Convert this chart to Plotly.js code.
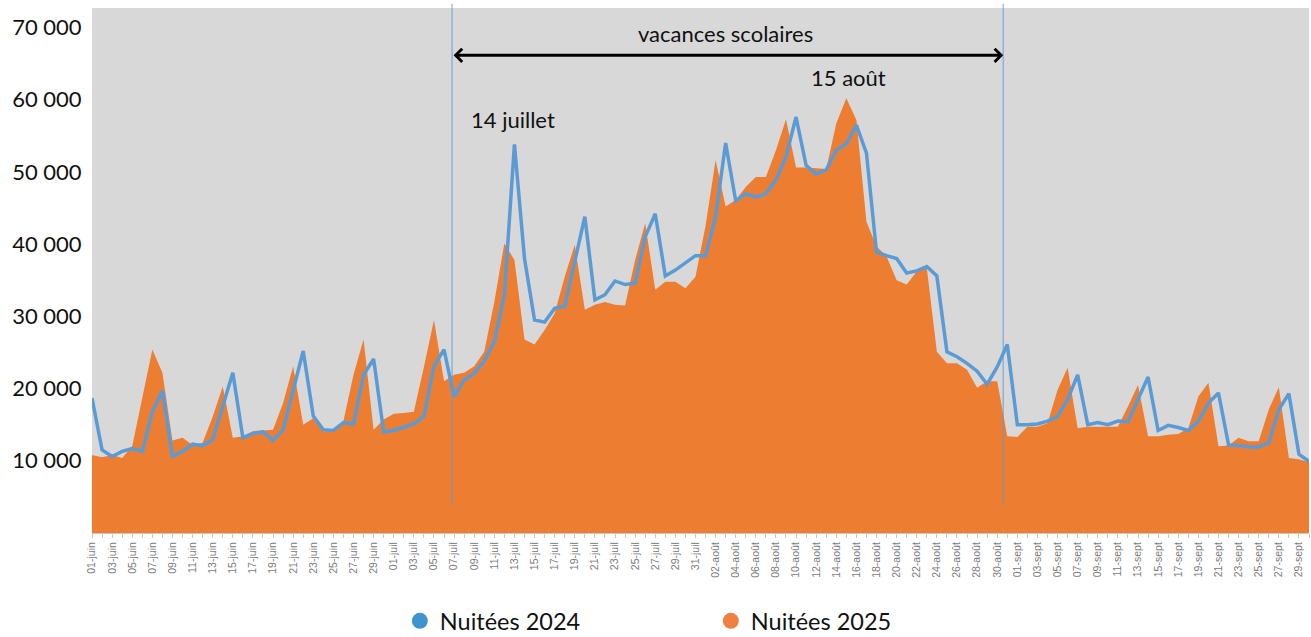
<!DOCTYPE html>
<html>
<head>
<meta charset="utf-8">
<script src="https://cdn.plot.ly/plotly-3.0.1.min.js"></script>
<style>
  html, body { margin: 0; padding: 0; background: #ffffff; }
  #chart { width: 1311px; height: 637px; }
</style>
</head>
<body>
<div id="chart"></div>
<script>
// Month names and day counts for the category labels (1 June -> 30 September)
const monthNames = ["juin", "juil", "août", "sept"];
const monthDays = [30, 31, 31, 30];

// Nuitées 2024 (blue line)
const nuitees2024 = [
  18700, 11500, 10600, 11300, 11700, 11300, 16800, 19700, 10600, 11300,
  12300, 12100, 12900, 17500, 22200, 13200, 13800, 14000, 12800, 14300,
  19800, 25200, 16200, 14300, 14200, 15300, 15100, 21900, 24100, 14000,
  14200, 14600, 15100, 16200, 23100, 25400, 18900, 21200, 22100, 23800,
  26500, 33000, 53800, 38000, 29500, 29200, 31100, 31400, 37400, 43800,
  32300, 33000, 34900, 34400, 34600, 41000, 44200, 35600, 36400, 37400,
  38400, 38400, 43800, 54000, 46000, 47000, 46500, 47000, 48900, 52100,
  57600, 50900, 49700, 50300, 53000, 53900, 56500, 52600, 38900, 38400,
  38000, 36000, 36300, 36900, 35600, 25100, 24400, 23500, 22400, 20600,
  23000, 26100, 15000, 15000, 15100, 15500, 16100, 18500, 21900, 15000,
  15300, 15000, 15500, 15400, 18500, 21600, 14200, 14900, 14600, 14200,
  15500, 18000, 19400, 12200, 12100, 11900, 11900, 12500, 17100, 19300,
  10900, 9900
];

// Nuitées 2025 (orange area)
const nuitees2025 = [
  10800, 10500, 10800, 10400, 12000, 18500, 25400, 22200, 12800, 13200,
  12200, 12500, 16100, 20300, 13200, 13400, 14100, 14200, 14300, 18000,
  23100, 15000, 15900, 14100, 14100, 15500, 21900, 26800, 14300, 15700,
  16500, 16600, 16800, 23000, 29500, 21000, 21900, 22200, 23100, 25100,
  32000, 40100, 37800, 26800, 26100, 28100, 30400, 35500, 39900, 30900,
  31600, 32000, 31600, 31500, 37800, 42900, 33700, 34800, 34800, 33900,
  35500, 42500, 51600, 45200, 46100, 47900, 49300, 49300, 53000, 57300,
  50600, 50600, 50500, 50400, 56700, 60200, 57200, 43100, 39700, 38300,
  35000, 34400, 36200, 36700, 25100, 23500, 23500, 22600, 20100, 21000,
  21000, 13400, 13300, 14700, 14700, 15200, 19800, 22900, 14500, 14700,
  14700, 14700, 14700, 17500, 20500, 13400, 13400, 13600, 13700, 14500,
  18900, 20800, 12000, 12100, 13200, 12700, 12700, 17100, 20200, 10400,
  10200, 9800
];

// Y tick labels
const yTickVals = [10000, 20000, 30000, 40000, 50000, 60000, 70000];
const yTickText = ["10 000", "20 000", "30 000", "40 000", "50 000", "60 000", "70 000"];

// Build categories "01-juin" ... "30-sept"
const categories = [];
monthNames.forEach((m, k) => {
  for (let d = 1; d <= monthDays[k]; d++) {
    categories.push((d < 10 ? "0" + d : "" + d) + "-" + m);
  }
});
// Ticks on every day, labels every second day
const xTickText = categories.map((c, i) => (i % 2 === 0 ? c : ""));

const ORANGE = "#ED7D31";
const BLUE = "#5B9BD5";
const FONT = "Lato, 'Open Sans', sans-serif";

const traces = [
  {
    x: categories, y: nuitees2025, type: "scatter", mode: "lines",
    fill: "tozeroy", fillcolor: ORANGE, line: { width: 0, color: ORANGE },
    showlegend: false, hoverinfo: "skip"
  },
  {
    x: categories, y: nuitees2024, type: "scatter", mode: "lines",
    line: { width: 3.5, color: BLUE }, showlegend: false, hoverinfo: "skip"
  },
  {
    x: [null], y: [null], type: "scatter", mode: "markers", name: "Nuitées 2024",
    marker: { size: 20, color: "#3E95CD", symbol: "circle" }, showlegend: true
  },
  {
    x: [null], y: [null], type: "scatter", mode: "markers", name: "Nuitées 2025",
    marker: { size: 20, color: "#F0803F", symbol: "circle" }, showlegend: true
  }
];

const leftLine = 35.8, rightLine = 90.6;

const layout = {
  width: 1311, height: 637,
  margin: { l: 92, r: 2, t: 8, b: 103.5, pad: 0, autoexpand: false },
  paper_bgcolor: "#ffffff",
  plot_bgcolor: "#d8d8d8",
  font: { family: FONT, color: "#000000" },
  xaxis: {
    type: "category",
    range: [0, 121],
    tickmode: "array",
    tickvals: categories,
    ticktext: xTickText,
    tickangle: -90,
    tickfont: { family: "'Liberation Sans', Arial, sans-serif", size: 10.5, color: "#7a7a7a" },
    ticks: "outside", ticklen: 4, tickcolor: "#c8c8c8", tickwidth: 1,
    showline: true, linecolor: "#c8c8c8", linewidth: 1,
    showgrid: false, zeroline: false, automargin: false, fixedrange: true
  },
  yaxis: {
    range: [0, 72700],
    tickmode: "array",
    tickvals: yTickVals,
    ticktext: yTickText,
    tickfont: { family: FONT, size: 22, color: "#111111" },
    ticks: "outside", ticklen: 5, tickcolor: "rgba(0,0,0,0)",
    showline: false, showgrid: false, zeroline: false, automargin: false, fixedrange: true
  },
  shapes: [
    { type: "line", xref: "x", yref: "paper", x0: leftLine, x1: leftLine, y0: 0.054, y1: 1.008,
      line: { color: "rgba(91,155,213,0.6)", width: 1.5 } },
    { type: "line", xref: "x", yref: "paper", x0: rightLine, x1: rightLine, y0: 0.054, y1: 1.008,
      line: { color: "rgba(91,155,213,0.6)", width: 1.5 } }
  ],
  annotations: [
    { xref: "x", yref: "y", x: rightLine, y: 66150, axref: "x", ayref: "y", ax: leftLine, ay: 66150,
      text: "", showarrow: true, arrowside: "end+start", arrowhead: 4, arrowsize: 0.85,
      arrowwidth: 3, arrowcolor: "#000000", standoff: 0, startstandoff: 0 },
    { xref: "x", yref: "y", x: 63.0, y: 69200, text: "vacances scolaires", showarrow: false,
      xanchor: "center", yanchor: "middle", font: { family: FONT, size: 22, color: "#111111" } },
    { xref: "x", yref: "y", x: 37.5, y: 57300, text: "14 juillet", showarrow: false,
      xanchor: "left", yanchor: "middle", font: { family: FONT, size: 22, color: "#111111" } },
    { xref: "x", yref: "y", x: 71.3, y: 63100, text: "15 août", showarrow: false,
      xanchor: "left", yanchor: "middle", font: { family: FONT, size: 22, color: "#111111" } }
  ],
  showlegend: true,
  legend: {
    orientation: "h",
    xref: "container", yref: "container",
    x: 0.305, xanchor: "left",
    y: 0.025, yanchor: "middle",
    entrywidth: 266, entrywidthmode: "pixels",
    font: { family: FONT, size: 23.5, color: "#111111" },
    bgcolor: "rgba(0,0,0,0)", itemsizing: "trace"
  }
};

Plotly.newPlot("chart", traces, layout, { displayModeBar: false, staticPlot: true });
</script>
</body>
</html>
